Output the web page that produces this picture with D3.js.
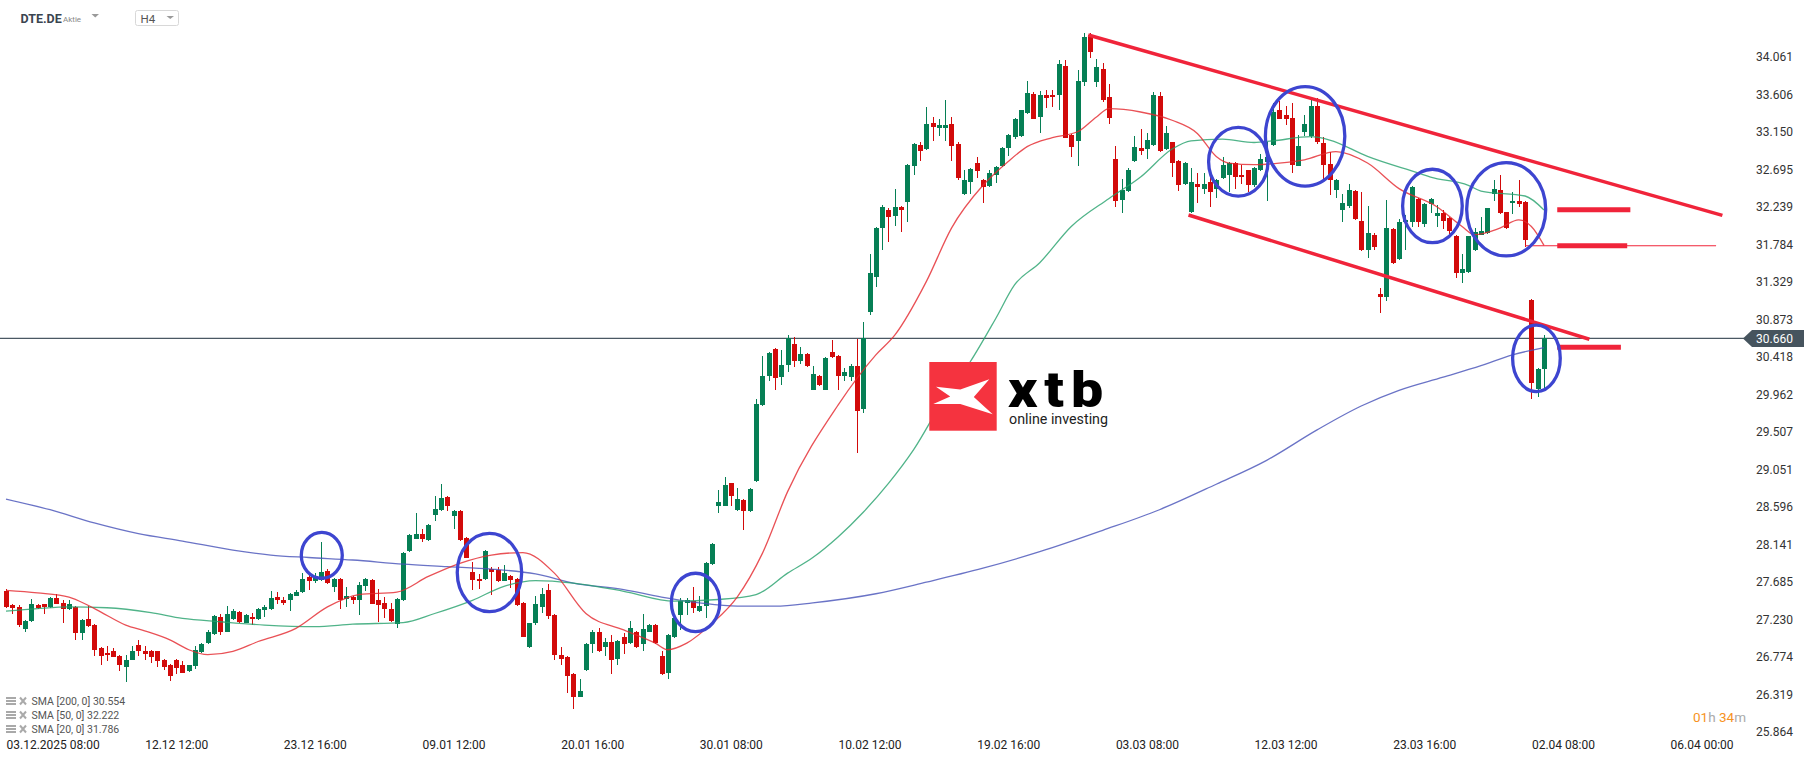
<!DOCTYPE html>
<html><head><meta charset="utf-8">
<script src="https://cdn.jsdelivr.net/npm/d3@7"></script>
<style>
html,body{margin:0;padding:0;background:#fff;overflow:hidden}
svg{display:block;font-family:Roboto,"Open Sans",sans-serif}
</style></head><body>
<svg id="chart" width="1816" height="761"></svg>
<script>
// ---------- DATA ----------
const open  = [27.59,27.42,27.40,27.13,27.23,27.42,27.43,27.40,27.51,27.45,27.37,27.40,27.08,27.25,27.18,26.90,26.84,26.86,26.80,26.67,26.76,26.94,26.87,26.87,26.86,26.76,26.70,26.76,26.69,26.62,26.68,26.85,26.96,27.07,27.28,27.10,27.25,27.34,27.21,27.28,27.25,27.36,27.37,27.52,27.49,27.48,27.53,27.58,27.76,27.72,27.73,27.84,27.64,27.74,27.50,27.52,27.49,27.66,27.73,27.49,27.45,27.37,27.19,27.48,28.08,28.23,28.29,28.21,28.52,28.58,28.74,28.50,28.57,28.24,27.82,27.74,27.74,27.86,27.85,27.72,27.78,27.74,27.45,26.91,27.20,27.40,27.61,27.30,26.81,26.79,26.59,26.31,26.63,26.95,27.10,26.91,26.98,26.77,27.04,26.96,27.10,26.95,27.10,27.18,26.80,26.60,27.03,27.30,27.45,27.47,27.35,27.41,27.92,28.62,28.63,28.90,28.58,28.70,28.56,28.93,29.85,30.20,30.53,30.19,30.34,30.59,30.39,30.47,30.04,30.21,30.04,30.50,30.45,30.21,30.19,30.32,29.80,30.98,31.41,32.00,32.22,32.15,32.26,32.32,32.75,33.01,32.96,33.28,33.22,33.22,33.27,33.02,32.41,32.56,32.79,32.59,32.51,32.64,32.75,32.97,33.11,33.12,33.40,33.63,33.35,33.62,33.62,33.62,33.97,33.13,33.06,33.78,34.34,33.77,33.93,33.59,32.84,32.34,32.45,32.81,32.97,32.96,33.01,33.60,32.96,33.04,32.82,32.53,32.19,32.54,32.47,32.56,32.47,32.61,32.65,32.79,32.65,32.70,32.52,32.70,32.80,33.01,33.44,33.37,33.34,32.76,33.17,33.12,33.48,33.03,32.78,32.46,32.22,32.27,32.45,32.09,31.73,31.92,31.20,31.16,31.99,31.62,32.07,32.07,32.35,32.05,32.29,32.15,32.18,32.12,31.91,31.46,31.47,31.73,31.92,31.94,32.41,32.46,32.19,32.30,32.33,32.32,31.13,30.05,30.29];
const high  = [27.62,27.43,27.42,27.24,27.50,27.44,27.44,27.52,27.56,27.49,27.49,27.41,27.25,27.41,27.19,26.91,26.92,26.90,26.81,26.81,26.92,27.00,26.92,26.88,26.87,26.77,26.71,26.77,26.74,26.70,26.92,26.96,27.12,27.30,27.31,27.41,27.38,27.35,27.32,27.33,27.39,27.42,27.59,27.58,27.52,27.57,27.61,27.81,27.80,27.81,28.19,27.86,27.75,27.75,27.64,27.53,27.70,27.75,27.74,27.62,27.52,27.45,27.51,28.07,28.29,28.54,28.35,28.41,28.75,28.89,28.75,28.58,28.58,28.25,27.95,27.80,28.09,27.89,27.88,27.91,27.79,27.75,27.46,27.21,27.53,27.63,27.68,27.31,26.91,26.80,26.60,26.53,26.96,27.12,27.15,27.02,27.06,27.00,27.08,27.23,27.11,27.32,27.19,27.19,26.87,27.07,27.27,27.51,27.51,27.64,27.53,27.95,28.18,28.82,28.98,28.91,28.85,28.71,28.84,29.92,30.45,30.49,30.54,30.52,30.70,30.68,30.56,30.48,30.32,30.22,30.43,30.64,30.46,30.30,30.35,30.65,30.86,31.69,32.01,32.28,32.24,32.47,32.27,32.78,33.03,33.04,33.47,33.35,33.33,33.56,33.35,33.04,32.71,32.73,32.86,32.60,32.70,32.75,32.98,33.14,33.34,33.44,33.79,33.65,33.66,33.68,33.68,34.04,34.04,33.14,33.92,34.37,34.37,34.05,34.00,33.75,33.00,32.60,32.73,33.12,33.20,33.16,33.65,33.65,33.24,33.05,32.83,32.80,32.73,32.67,32.67,32.62,32.60,32.86,32.80,32.80,32.77,32.71,32.74,32.90,33.05,33.52,33.54,33.48,33.52,33.13,33.37,33.56,33.58,33.11,32.93,32.60,32.41,32.54,32.46,32.44,32.27,31.94,31.27,32.34,32.00,32.11,32.16,32.51,32.37,32.30,32.36,32.28,32.22,32.13,31.92,31.69,31.91,32.00,32.14,32.25,32.58,32.65,32.20,32.44,32.58,32.33,31.14,30.30,30.70];
const low   = [27.39,27.31,27.16,27.09,27.22,27.38,27.32,27.39,27.44,27.21,27.36,27.00,27.00,27.16,26.80,26.69,26.74,26.79,26.62,26.49,26.75,26.80,26.76,26.72,26.67,26.63,26.50,26.58,26.60,26.61,26.65,26.84,26.95,27.06,27.06,27.09,27.24,27.20,27.20,27.18,27.24,27.28,27.36,27.44,27.42,27.35,27.53,27.57,27.61,27.69,27.72,27.68,27.58,27.37,27.40,27.44,27.30,27.59,27.43,27.22,27.26,27.22,27.15,27.47,28.07,28.22,28.19,28.20,28.44,28.57,28.57,28.35,28.20,27.99,27.61,27.62,27.73,27.54,27.70,27.71,27.63,27.41,27.03,26.90,27.18,27.33,27.25,26.76,26.70,26.35,26.16,26.30,26.62,26.84,26.85,26.80,26.58,26.70,26.83,26.95,26.90,26.86,27.09,26.95,26.57,26.52,27.02,27.12,27.30,27.33,27.34,27.26,27.91,28.54,28.62,28.63,28.56,28.33,28.55,28.92,29.84,30.14,30.04,30.09,30.25,30.31,30.35,30.31,30.03,30.08,30.03,30.42,30.04,30.14,30.14,29.27,29.76,30.94,31.29,31.73,31.83,32.03,31.95,32.07,32.65,32.81,32.95,33.06,33.12,33.06,32.81,32.58,32.40,32.42,32.61,32.30,32.50,32.55,32.74,32.88,33.08,33.11,33.39,33.33,33.15,33.46,33.47,33.43,33.09,32.86,32.75,33.72,34.07,33.71,33.53,33.27,32.26,32.18,32.44,32.80,32.89,32.84,33.00,32.93,32.95,32.62,32.45,32.52,32.18,32.31,32.41,32.26,32.36,32.60,32.44,32.48,32.54,32.44,32.50,32.69,32.33,33.00,33.32,33.25,32.67,32.75,33.12,33.10,33.02,32.58,32.40,32.37,32.08,32.24,32.10,31.72,31.64,31.74,30.97,31.12,31.57,31.61,31.74,32.01,32.01,32.01,32.18,32.01,31.99,31.93,31.39,31.33,31.46,31.72,31.92,31.93,32.33,32.17,31.99,32.17,32.26,31.77,29.93,29.95,30.03];
const close = [27.40,27.39,27.18,27.23,27.43,27.39,27.40,27.51,27.44,27.37,27.43,27.08,27.24,27.17,26.88,26.80,26.81,26.79,26.69,26.76,26.87,26.86,26.83,26.79,26.74,26.67,26.56,26.66,26.60,26.69,26.88,26.95,27.10,27.29,27.10,27.31,27.35,27.22,27.30,27.25,27.38,27.40,27.51,27.49,27.45,27.56,27.58,27.74,27.71,27.78,27.82,27.69,27.74,27.49,27.53,27.48,27.67,27.74,27.44,27.42,27.37,27.23,27.50,28.06,28.27,28.29,28.23,28.40,28.59,28.72,28.62,28.56,28.21,28.00,27.73,27.71,28.08,27.83,27.71,27.81,27.73,27.42,27.04,27.20,27.43,27.56,27.29,26.81,26.77,26.56,26.31,26.38,26.95,27.10,26.86,26.97,26.75,26.99,26.95,27.14,26.91,27.13,27.18,26.96,26.59,27.06,27.26,27.47,27.48,27.39,27.41,27.93,28.17,28.67,28.88,28.75,28.71,28.56,28.83,29.87,30.21,30.48,30.18,30.34,30.67,30.39,30.47,30.32,30.23,30.09,30.42,30.43,30.21,30.25,30.33,29.78,30.67,31.45,32.00,32.26,32.14,32.26,32.22,32.77,33.02,32.94,33.26,33.23,33.25,33.25,33.00,32.61,32.58,32.72,32.69,32.50,32.67,32.74,32.97,33.13,33.33,33.43,33.64,33.33,33.62,33.58,33.59,33.99,33.09,32.99,33.79,34.32,34.14,33.96,33.56,33.34,32.33,32.46,32.71,32.98,32.94,33.07,33.62,32.94,33.15,32.79,32.52,32.79,32.56,32.50,32.53,32.44,32.59,32.77,32.79,32.62,32.62,32.52,32.73,32.84,32.86,33.41,33.33,33.33,32.77,33.00,33.26,33.48,33.05,32.77,32.58,32.59,32.30,32.46,32.11,31.73,31.94,31.77,31.16,32.00,31.58,32.08,32.10,32.50,32.07,32.29,32.35,32.18,32.09,31.96,31.46,31.50,31.90,31.95,31.96,32.24,32.48,32.18,32.00,32.33,32.29,31.86,30.12,30.29,30.66];

const timeLabels = ["03.12.2025 08:00","12.12 12:00","23.12 16:00","09.01 12:00","20.01 16:00","30.01 08:00","10.02 12:00","19.02 16:00","03.03 08:00","12.03 12:00","23.03 16:00","02.04 08:00","06.04 00:00"];
const labelEvery = 22;
const yTicks = [34.061,33.606,33.150,32.695,32.239,31.784,31.329,30.873,30.418,29.962,29.507,29.051,28.596,28.141,27.685,27.230,26.774,26.319,25.864];
const lastPrice = 30.660;

const sma200Idx = [0,7,14,21,28,36,42,48,55,63,70,77,84,90,98,104,110,116,122,128,138,146,155,164,174,183,192,200,208,215,221,228,234,239,244];
const sma200Val = [28.71,28.58,28.42,28.29,28.20,28.09,28.03,28.00,27.97,27.92,27.89,27.86,27.80,27.69,27.61,27.52,27.45,27.41,27.41,27.45,27.56,27.70,27.87,28.07,28.33,28.58,28.89,29.18,29.55,29.84,30.03,30.19,30.33,30.46,30.55];
const sma50Idx = [0,5,10,16,23,28,34,41,49,55,63,68,74,79,84,90,98,106,113,119,124,128,132,136,140,144,149,153,157,160,164,169,175,180,185,188,193,198,201,207,210,216,224,226,232,234,241,244];
const sma50Val = [27.35,27.38,27.40,27.39,27.33,27.26,27.22,27.18,27.16,27.19,27.21,27.32,27.48,27.65,27.72,27.69,27.59,27.47,27.49,27.55,27.81,28.00,28.25,28.55,28.90,29.31,29.95,30.38,30.90,31.31,31.58,32.02,32.36,32.62,32.96,33.06,33.08,33.04,33.06,33.11,33.07,32.87,32.67,32.62,32.52,32.45,32.39,32.22];
const sma20Idx = [0,5,10,13,15,19,22,26,29,32,36,40,46,51,56,62,67,72,77,82,87,92,98,103,105,108,112,116,120,124,132,138,141,146,150,155,159,162,166,170,173,175,180,185,189,192,194,198,202,206,211,216,221,227,231,233,237,240,242,244];
const sma20Val = [27.60,27.57,27.52,27.42,27.34,27.18,27.11,27.00,26.88,26.82,26.86,26.98,27.14,27.40,27.55,27.58,27.77,27.93,28.03,28.06,27.81,27.32,27.12,26.96,26.88,26.96,27.20,27.52,28.05,28.80,29.85,30.46,30.70,31.35,32.00,32.52,32.81,32.99,33.10,33.17,33.35,33.45,33.41,33.31,33.15,32.87,32.79,32.77,32.79,32.83,32.93,32.79,32.48,32.26,32.02,31.92,32.00,32.10,32.02,31.79];

const legendNames  = ["SMA [200, 0]","SMA [50, 0]","SMA [20, 0]"];
const legendValues = [30.554, 32.222, 31.786];

// annotations (candle index, price)
const trendUpper = [[171.7, 34.345],[272.3, 32.154]];
const trendLower = [[187.6, 32.159],[251.2, 30.650]];
const levelPrices = [32.222, 31.786, 30.554];
const levelFrom = [246.1, 246.1, 246.1];
const levelTo   = [257.7, 257.2, 256.2];
const supportLine = [[241, 31.786],[271.3, 31.786]];
const circleIdx = [50.1, 76.7, 109.4, 195.5, 206.1, 226.3, 238.0, 242.8];
const circlePrice = [28.027, 27.818, 27.454, 32.806, 33.115, 32.269, 32.229, 30.419];
const circleRx = [3.25, 5.11, 3.84, 4.71, 6.30, 4.73, 6.27, 3.78];
const circleRy = [0.279, 0.476, 0.355, 0.417, 0.604, 0.446, 0.567, 0.404];

// ---------- DRAW ----------
const svg = d3.select("#chart");
const x = d3.scaleLinear().domain([0, 244]).range([6, 1544]);
const y = d3.scaleLinear().domain([25.864, 34.061]).range([733.4, 58.4]);
const step = x(1) - x(0);
const GREEN = "#067f55", RED = "#d20a0a";

const candles = d3.range(open.length).map(i => ({i, o: open[i], h: high[i], l: low[i], c: close[i]}));

// current price line
svg.append("line").attr("x1", 0).attr("x2", 1744).attr("y1", y(lastPrice)).attr("y2", y(lastPrice))
  .attr("stroke", "#4a5863").attr("stroke-width", 1.2);

const cg = svg.append("g").attr("shape-rendering", "crispEdges");
cg.selectAll("line.w").data(candles).join("line").attr("class","w")
  .attr("x1", d => Math.round(x(d.i)) + 0.5).attr("x2", d => Math.round(x(d.i)) + 0.5)
  .attr("y1", d => y(d.h)).attr("y2", d => y(d.l))
  .attr("stroke", d => d.c >= d.o ? GREEN : RED).attr("stroke-width", 1);
cg.selectAll("rect.b").data(candles).join("rect").attr("class","b")
  .attr("x", d => Math.round(x(d.i)) - 2)
  .attr("width", 5)
  .attr("y", d => y(Math.max(d.o, d.c)))
  .attr("height", d => Math.max(1, Math.abs(y(d.o) - y(d.c))))
  .attr("fill", d => d.c >= d.o ? GREEN : RED);

// SMA lines
const line = d3.line().x(d => x(d[0])).y(d => y(d[1])).curve(d3.curveMonotoneX);
function smaPath(idx, val, color) {
  svg.append("path").datum(idx.map((k, j) => [k, val[j]])).attr("d", line)
    .attr("fill", "none").attr("stroke", color).attr("stroke-width", 1.3).attr("stroke-opacity", 0.8);
}
smaPath(sma200Idx, sma200Val, "#4550b8");
smaPath(sma50Idx, sma50Val, "#24a06c");
smaPath(sma20Idx, sma20Val, "#e3262c");

// trend lines & levels
const TRED = "#f0243a";
const straight = d3.line().x(d => x(d[0])).y(d => y(d[1]));
[trendUpper, trendLower].forEach(t => svg.append("path").attr("d", straight(t))
  .attr("stroke", TRED).attr("stroke-width", 3.5).attr("fill", "none"));
svg.append("path").attr("d", straight(supportLine)).attr("stroke", TRED).attr("stroke-width", 1.2).attr("fill", "none");
levelPrices.forEach((p, k) => svg.append("line")
  .attr("x1", x(levelFrom[k])).attr("x2", x(levelTo[k])).attr("y1", y(p)).attr("y2", y(p))
  .attr("stroke", TRED).attr("stroke-width", 5));

// circles
circleIdx.forEach((ci, k) => svg.append("ellipse")
  .attr("cx", x(ci)).attr("cy", y(circlePrice[k]))
  .attr("rx", circleRx[k] * step).attr("ry", Math.abs(y(0) - y(circleRy[k])))
  .attr("fill", "none").attr("stroke", "#3d45d0").attr("stroke-width", 3.3));

// Y axis
const yAxis = d3.axisRight(y).tickValues(yTicks).tickSize(0).tickPadding(0).tickFormat(d3.format(".3f"));
const ya = svg.append("g").attr("transform", "translate(1756,-1.7)").call(yAxis);
ya.select(".domain").remove();
ya.selectAll("text").attr("font-size", 12).attr("fill", "#333").attr("font-family", "Roboto");

// price label
const py = y(lastPrice);
svg.append("path").attr("d", `M1743,${py} L1752,${py-8.5} L1804,${py-8.5} L1804,${py+8.5} L1752,${py+8.5} Z`).attr("fill", "#46545e");
svg.append("text").attr("x", 1756).attr("y", py).attr("dy", "0.35em").attr("font-size", 12).attr("fill", "#fff")
  .text(d3.format(".3f")(lastPrice));

// X axis
const xTickIdx = timeLabels.map((_, k) => k * labelEvery);
const xAxis = d3.axisBottom(x).tickValues(xTickIdx).tickSize(0).tickPadding(0)
  .tickFormat((d, k) => timeLabels[k]);
const xa = svg.append("g").attr("transform", "translate(0,740)").call(xAxis);
xa.select(".domain").remove();
xa.selectAll("text").attr("text-anchor", "start").attr("font-size", 12).attr("fill", "#222").attr("font-family", "Roboto");

// legend
legendNames.forEach((n, k) => {
  const ly = 701 + k * 14;
  const g = svg.append("g");
  [-3, 0, 3].forEach(o => g.append("rect").attr("x", 6).attr("y", ly + o - 0.9).attr("width", 10).attr("height", 1.8).attr("fill", "#a0a0a0"));
  g.append("path").attr("d", `M20,${ly-3.5} L26,${ly+3.5} M26,${ly-3.5} L20,${ly+3.5}`).attr("stroke", "#aaa").attr("stroke-width", 2);
  g.append("text").attr("x", 31.5).attr("y", ly).attr("dy", "0.35em").attr("font-size", 10.5).attr("fill", "#555")
    .text(n + " " + d3.format(".3f")(legendValues[k]));
});

// header
svg.append("text").attr("x", 20.5).attr("y", 18.5).attr("dy", "0.35em").attr("font-size", 12.5).attr("font-weight", "bold").attr("fill", "#3a4550").text("DTE.DE");
svg.append("text").attr("x", 63).attr("y", 19).attr("dy", "0.35em").attr("font-size", 8).attr("fill", "#888").text("Aktie");
svg.append("path").attr("d", "M91.5,14 L99,14 L95.25,17.5 Z").attr("fill", "#9a9a9a");
svg.append("rect").attr("x", 135.5).attr("y", 10.5).attr("width", 43).attr("height", 15).attr("rx", 2).attr("fill", "#fff").attr("stroke", "#d8d8d8");
svg.append("text").attr("x", 140.5).attr("y", 19).attr("dy", "0.35em").attr("font-size", 11.5).attr("fill", "#555").text("H4");
svg.append("path").attr("d", "M166.5,16 L174,16 L170.25,19 Z").attr("fill", "#9a9a9a");

// timer
const tm = svg.append("text").attr("x", 1693).attr("y", 717).attr("dy", "0.35em").attr("font-size", 13.5);
tm.append("tspan").attr("fill", "#f7931e").text("01");
tm.append("tspan").attr("fill", "#aaa").text("h ");
tm.append("tspan").attr("fill", "#f7931e").text("34");
tm.append("tspan").attr("fill", "#aaa").text("m");

// xtb logo
const lg = svg.append("g").attr("transform", "translate(929.3,362)");
lg.append("rect").attr("width", 67.4).attr("height", 68.7).attr("fill", "#f5333f");
const xs = [[0.10,0.36],[0.46,0.40],[0.89,0.25],[0.66,0.51],[0.94,0.76],[0.46,0.61],[0.06,0.61],[0.31,0.50]];
lg.append("path").attr("d", "M" + xs.map(p => (p[0]*67.4).toFixed(1) + "," + (p[1]*68.7).toFixed(1)).join("L") + "Z").attr("fill", "#fff");
svg.append("text").attr("x", 1008).attr("y", 406.5).attr("font-size", 50).attr("font-weight", 900).attr("fill", "#000")
  .attr("letter-spacing", 6).attr("textLength", 102).attr("lengthAdjust", "spacingAndGlyphs").text("xtb");
svg.append("text").attr("x", 1009).attr("y", 424).attr("font-size", 14).attr("fill", "#222")
  .attr("textLength", 99).attr("lengthAdjust", "spacingAndGlyphs").text("online investing");
</script>
</body></html>
